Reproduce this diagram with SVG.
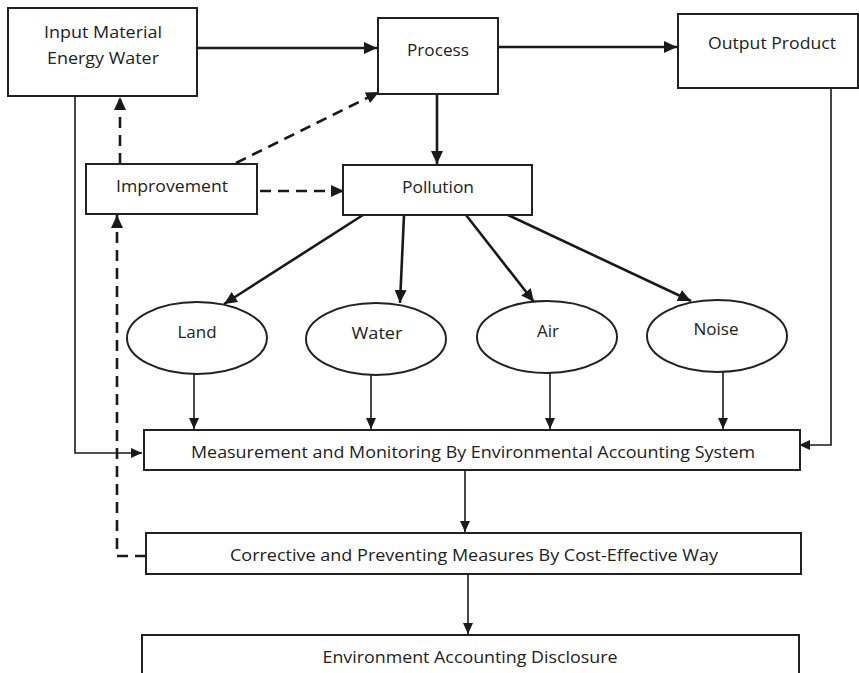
<svg xmlns="http://www.w3.org/2000/svg" width="859" height="673" viewBox="0 0 859 673">
<style>
  .box { fill: #ffffff; stroke: #222222; stroke-width: 2; }
  .ell { fill: #ffffff; stroke: #222222; stroke-width: 2; }
  .t { font-family: "Open Sans", "Liberation Sans", sans-serif; font-size: 17px; fill: #222222; text-anchor: middle; }
  .thick { fill: none; stroke: #1a1a1a; stroke-width: 2.6; }
  .thin { fill: none; stroke: #1a1a1a; stroke-width: 1.6; }
  .dash { fill: none; stroke: #1a1a1a; stroke-width: 2.6; stroke-dasharray: 11 7; }
</style>
<defs>
  <marker id="ah" markerUnits="userSpaceOnUse" markerWidth="14" markerHeight="12" refX="13" refY="6" orient="auto">
    <path d="M0,0 L13,6 L0,12 Z" fill="#1a1a1a"/>
  </marker>
  <marker id="ahs" markerUnits="userSpaceOnUse" markerWidth="12" markerHeight="10" refX="11" refY="5" orient="auto">
    <path d="M0,0 L11,5 L0,10 Z" fill="#1a1a1a"/>
  </marker>
</defs>
<rect width="859" height="673" fill="#ffffff"/>

<g id="connectors">
  <line class="thick" x1="197" y1="48" x2="377" y2="48" marker-end="url(#ah)"/>
  <line class="thick" x1="498" y1="47" x2="677" y2="47" marker-end="url(#ah)"/>
  <line class="thick" x1="437" y1="94" x2="437" y2="164" marker-end="url(#ah)"/>
  <line class="thick" x1="363" y1="215" x2="224" y2="304" marker-end="url(#ah)"/>
  <line class="thick" x1="404" y1="215" x2="400" y2="303" marker-end="url(#ah)"/>
  <line class="thick" x1="466" y1="215" x2="534" y2="302" marker-end="url(#ah)"/>
  <line class="thick" x1="508" y1="215" x2="691" y2="301" marker-end="url(#ah)"/>
  <line class="thin" x1="194" y1="374" x2="194" y2="429" marker-end="url(#ahs)"/>
  <line class="thin" x1="371" y1="375" x2="371" y2="429" marker-end="url(#ahs)"/>
  <line class="thin" x1="550" y1="373" x2="550" y2="429" marker-end="url(#ahs)"/>
  <line class="thin" x1="723" y1="372" x2="723" y2="429" marker-end="url(#ahs)"/>
  <polyline class="thin" points="75,96 75,453 142,453" marker-end="url(#ahs)"/>
  <polyline class="thin" points="831,88 831,445 799,445" marker-end="url(#ahs)"/>
  <line class="thin" x1="465" y1="470" x2="465" y2="532" marker-end="url(#ahs)"/>
  <line class="thin" x1="468" y1="574" x2="468" y2="634" marker-end="url(#ahs)"/>
  <line class="dash" x1="120" y1="164" x2="120" y2="97" marker-end="url(#ah)"/>
  <line class="dash" x1="236" y1="163" x2="379" y2="92" marker-end="url(#ah)"/>
  <line class="dash" x1="260" y1="191" x2="344" y2="191" marker-end="url(#ah)"/>
  <polyline class="dash" points="146,556 117,556 117,215" marker-end="url(#ah)"/>
</g>

<g id="input">
  <rect class="box" x="8" y="8" width="189" height="88"/>
  <text class="t" x="103" y="38" textLength="118" lengthAdjust="spacingAndGlyphs">Input Material</text>
  <text class="t" x="103" y="64" textLength="112" lengthAdjust="spacingAndGlyphs">Energy Water</text>
</g>
<g id="process">
  <rect class="box" x="378" y="18" width="120" height="76"/>
  <text class="t" x="438" y="56" textLength="62" lengthAdjust="spacingAndGlyphs">Process</text>
</g>
<g id="output">
  <rect class="box" x="678" y="14" width="180" height="74"/>
  <text class="t" x="772" y="49" textLength="128" lengthAdjust="spacingAndGlyphs">Output Product</text>
</g>
<g id="improvement">
  <rect class="box" x="86" y="164" width="171" height="50"/>
  <text class="t" x="172" y="192" textLength="112" lengthAdjust="spacingAndGlyphs">Improvement</text>
</g>
<g id="pollution">
  <rect class="box" x="343" y="165" width="189" height="50"/>
  <text class="t" x="438" y="193" textLength="72" lengthAdjust="spacingAndGlyphs">Pollution</text>
</g>
<g id="land">
  <ellipse class="ell" cx="197" cy="338" rx="70" ry="36"/>
  <text class="t" x="197" y="338" textLength="39" lengthAdjust="spacingAndGlyphs">Land</text>
</g>
<g id="water">
  <ellipse class="ell" cx="376" cy="339" rx="70" ry="36"/>
  <text class="t" x="377" y="339" textLength="51" lengthAdjust="spacingAndGlyphs">Water</text>
</g>
<g id="air">
  <ellipse class="ell" cx="547" cy="337" rx="70" ry="36"/>
  <text class="t" x="548" y="337" textLength="22" lengthAdjust="spacingAndGlyphs">Air</text>
</g>
<g id="noise">
  <ellipse class="ell" cx="717" cy="336" rx="70" ry="36"/>
  <text class="t" x="716" y="335" textLength="45" lengthAdjust="spacingAndGlyphs">Noise</text>
</g>
<g id="measurement">
  <rect class="box" x="144" y="430" width="656" height="40"/>
  <text class="t" x="473" y="458" textLength="564" lengthAdjust="spacingAndGlyphs">Measurement and Monitoring By Environmental Accounting System</text>
</g>
<g id="corrective">
  <rect class="box" x="146" y="533" width="655" height="41"/>
  <text class="t" x="474" y="561" textLength="488" lengthAdjust="spacingAndGlyphs">Corrective and Preventing Measures By Cost-Effective Way</text>
</g>
<g id="disclosure">
  <rect class="box" x="142" y="635" width="657" height="60"/>
  <text class="t" x="470" y="663" textLength="295" lengthAdjust="spacingAndGlyphs">Environment Accounting Disclosure</text>
</g>
</svg>
